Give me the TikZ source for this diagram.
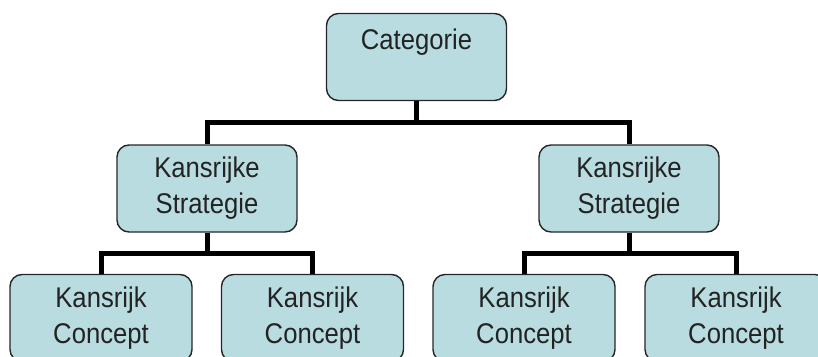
\documentclass[tikz,border=0pt]{standalone}
\usepackage{fontspec}
\setmainfont{Liberation Sans}[FakeStretch=0.9]
\usepackage{tikz}
\definecolor{boxfill}{RGB}{185,220,224}
\definecolor{boxtext}{RGB}{35,35,35}

\begin{document}
\begin{tikzpicture}[x=1pt,y=-1pt,
  box/.style={draw=black!85,line width=1.4pt,fill=boxfill,rounded corners=12pt,
    minimum width=180pt,minimum height=87pt,align=center,inner sep=0pt,
    text=boxtext,font=\fontsize{28.5}{36}\selectfont},
  link/.style={line width=5pt,black}]
\pgfmathsetmacro{\busA}{122}
\pgfmathsetmacro{\busB}{253}
\useasboundingbox (0,0) rectangle (818,356);
\node[box] (cat) at (416.5,57) {Categorie\\\mbox{}};
\node[box] (s1) at (207,188.5) {Kansrijke\\Strategie};
\node[box] (s2) at (629,188.5) {Kansrijke\\Strategie};
\node[box,minimum width=182pt] (c1) at (101,318) {Kansrijk\\Concept};
\node[box,minimum width=182pt] (c2) at (312.5,318) {Kansrijk\\Concept};
\node[box,minimum width=182pt] (c3) at (524,318) {Kansrijk\\Concept};
\node[box,minimum width=182pt] (c4) at (736,318) {Kansrijk\\Concept};
\draw[link] (cat.south) -- (cat.south |- 0,\busA) -| (s1.north);
\draw[link] (cat.south) -- (cat.south |- 0,\busA) -| (s2.north);
\draw[link] (s1.south) -- (s1.south |- 0,\busB) -| (c1.north);
\draw[link] (s1.south) -- (s1.south |- 0,\busB) -| (c2.north);
\draw[link] (s2.south) -- (s2.south |- 0,\busB) -| (c3.north);
\draw[link] (s2.south) -- (s2.south |- 0,\busB) -| (c4.north);
\end{tikzpicture}
\end{document}
